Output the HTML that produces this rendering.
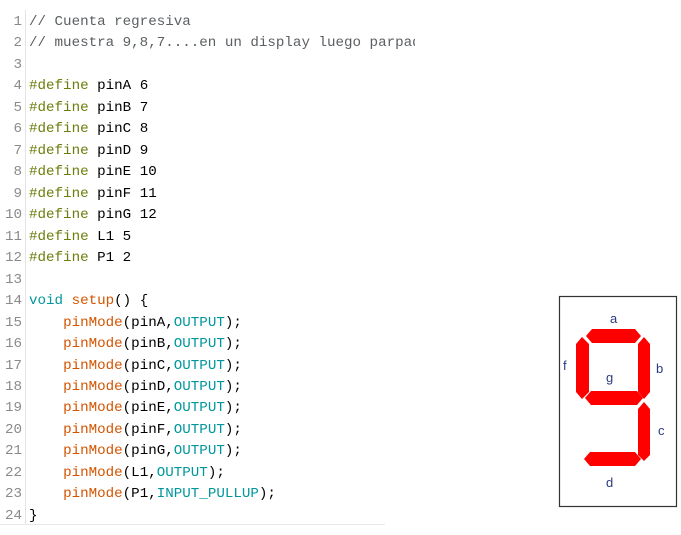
<!DOCTYPE html>
<html><head><style>
body{margin:0;width:681px;height:535px;background:#fff;overflow:hidden;position:relative;font-family:"Liberation Mono",monospace;}
.code{position:absolute;left:0;top:12px;width:415px;overflow:hidden;}
.l{height:21.48px;line-height:21.48px;font-size:14.2px;white-space:pre;position:relative;}
.n{display:inline-block;width:22px;text-align:right;color:#8a8a8a;padding-right:7px;}
.c{color:#5a5f62}.d{color:#6b7d0a}.k{color:#000}.o{color:#d35400}.t{color:#00979c}
.gut{position:absolute;left:25px;top:10px;width:1px;height:514px;background:#e4e4e4}
.bot{position:absolute;left:0;top:524px;width:385px;height:1px;background:#e8e8e8}
</style></head><body>
<div class="gut"></div><div class="bot"></div>
<div class="code">
<div class="l"><span class="n">1</span><span class="c">// Cuenta regresiva</span></div>
<div class="l"><span class="n">2</span><span class="c">// muestra 9,8,7....en un display luego parpadea</span></div>
<div class="l"><span class="n">3</span></div>
<div class="l"><span class="n">4</span><span class="d">#define</span> <span class="k">pinA 6</span></div>
<div class="l"><span class="n">5</span><span class="d">#define</span> <span class="k">pinB 7</span></div>
<div class="l"><span class="n">6</span><span class="d">#define</span> <span class="k">pinC 8</span></div>
<div class="l"><span class="n">7</span><span class="d">#define</span> <span class="k">pinD 9</span></div>
<div class="l"><span class="n">8</span><span class="d">#define</span> <span class="k">pinE 10</span></div>
<div class="l"><span class="n">9</span><span class="d">#define</span> <span class="k">pinF 11</span></div>
<div class="l"><span class="n">10</span><span class="d">#define</span> <span class="k">pinG 12</span></div>
<div class="l"><span class="n">11</span><span class="d">#define</span> <span class="k">L1 5</span></div>
<div class="l"><span class="n">12</span><span class="d">#define</span> <span class="k">P1 2</span></div>
<div class="l"><span class="n">13</span></div>
<div class="l"><span class="n">14</span><span class="t">void</span> <span class="o">setup</span>() {</div>
<div class="l"><span class="n">15</span>    <span class="o">pinMode</span>(pinA,<span class="t">OUTPUT</span>);</div>
<div class="l"><span class="n">16</span>    <span class="o">pinMode</span>(pinB,<span class="t">OUTPUT</span>);</div>
<div class="l"><span class="n">17</span>    <span class="o">pinMode</span>(pinC,<span class="t">OUTPUT</span>);</div>
<div class="l"><span class="n">18</span>    <span class="o">pinMode</span>(pinD,<span class="t">OUTPUT</span>);</div>
<div class="l"><span class="n">19</span>    <span class="o">pinMode</span>(pinE,<span class="t">OUTPUT</span>);</div>
<div class="l"><span class="n">20</span>    <span class="o">pinMode</span>(pinF,<span class="t">OUTPUT</span>);</div>
<div class="l"><span class="n">21</span>    <span class="o">pinMode</span>(pinG,<span class="t">OUTPUT</span>);</div>
<div class="l"><span class="n">22</span>    <span class="o">pinMode</span>(L1,<span class="t">OUTPUT</span>);</div>
<div class="l"><span class="n">23</span>    <span class="o">pinMode</span>(P1,<span class="t">INPUT_PULLUP</span>);</div>
<div class="l"><span class="n">24</span>}</div>
</div>
<svg style="position:absolute;left:0;top:0" width="681" height="535">
<rect x="559.5" y="296.5" width="117" height="210" fill="#fff" stroke="#333" stroke-width="1.2"/>
<g fill="#f00">
<polygon points="586,336 592,329 635,329 641,336 635,343 592,343"/>
<polygon points="582,337 589,344 589,392 582,399 576,392 576,344"/>
<polygon points="644,337 650,344 650,392 644,399 638,392 638,344"/>
<polygon points="585,398 591,391 637,391 643,398 637,405 591,405"/>
<polygon points="644,402 650,409 650,455 644,461 638,455 638,409"/>
<polygon points="584,459 590,452 635,452 641,459 635,466 590,466"/>
</g>
<g fill="#2b3a80" font-family="Liberation Sans,sans-serif" font-size="13">
<text x="610" y="323">a</text><text x="563" y="370">f</text><text x="656" y="373">b</text>
<text x="606" y="382">g</text><text x="658" y="435">c</text><text x="606" y="487">d</text>
</g>
</svg>
</body></html>
